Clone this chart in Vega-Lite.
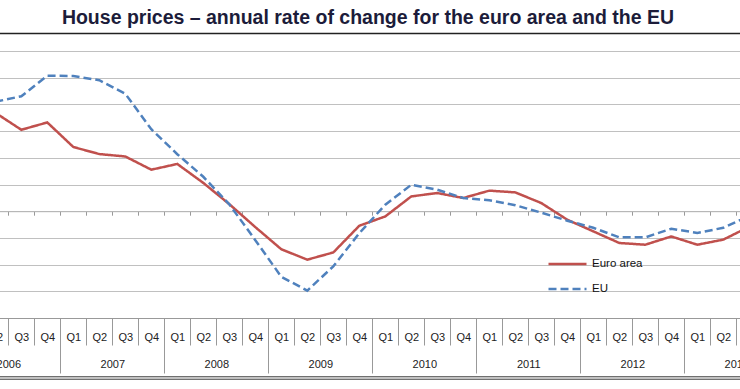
{
  "$schema": "https://vega.github.io/schema/vega-lite/v6.json",
  "width": 740,
  "height": 285,
  "autosize": {"type": "none"},
  "padding": {"left": 0, "right": 0, "top": 33, "bottom": 71},
  "background": "white",
  "title": {
    "text": "House prices – annual rate of change for the euro area and the EU",
    "font": "Liberation Sans",
    "fontSize": 19.5,
    "fontWeight": "bold",
    "color": "#1c1c3a",
    "anchor": "middle",
    "baseline": "alphabetic",
    "offset": 10,
    "dx": -2,
    "dy": 20
  },
  "config": {"view": {"stroke": null}},
  "data": {
    "values": [
      {"quarter": "2006 Q2", "idx": 1, "series": "Euro area", "value": 7.38},
      {"quarter": "2006 Q3", "idx": 2, "series": "Euro area", "value": 6.10},
      {"quarter": "2006 Q4", "idx": 3, "series": "Euro area", "value": 6.65},
      {"quarter": "2007 Q1", "idx": 4, "series": "Euro area", "value": 4.81},
      {"quarter": "2007 Q2", "idx": 5, "series": "Euro area", "value": 4.28},
      {"quarter": "2007 Q3", "idx": 6, "series": "Euro area", "value": 4.10},
      {"quarter": "2007 Q4", "idx": 7, "series": "Euro area", "value": 3.11},
      {"quarter": "2008 Q1", "idx": 8, "series": "Euro area", "value": 3.54},
      {"quarter": "2008 Q2", "idx": 9, "series": "Euro area", "value": 2.12},
      {"quarter": "2008 Q3", "idx": 10, "series": "Euro area", "value": 0.53},
      {"quarter": "2008 Q4", "idx": 11, "series": "Euro area", "value": -1.19},
      {"quarter": "2009 Q1", "idx": 12, "series": "Euro area", "value": -2.85},
      {"quarter": "2009 Q2", "idx": 13, "series": "Euro area", "value": -3.63},
      {"quarter": "2009 Q3", "idx": 14, "series": "Euro area", "value": -3.09},
      {"quarter": "2009 Q4", "idx": 15, "series": "Euro area", "value": -1.09},
      {"quarter": "2010 Q1", "idx": 16, "series": "Euro area", "value": -0.39},
      {"quarter": "2010 Q2", "idx": 17, "series": "Euro area", "value": 1.11},
      {"quarter": "2010 Q3", "idx": 18, "series": "Euro area", "value": 1.36},
      {"quarter": "2010 Q4", "idx": 19, "series": "Euro area", "value": 0.99},
      {"quarter": "2011 Q1", "idx": 20, "series": "Euro area", "value": 1.54},
      {"quarter": "2011 Q2", "idx": 21, "series": "Euro area", "value": 1.41},
      {"quarter": "2011 Q3", "idx": 22, "series": "Euro area", "value": 0.61},
      {"quarter": "2011 Q4", "idx": 23, "series": "Euro area", "value": -0.64},
      {"quarter": "2012 Q1", "idx": 24, "series": "Euro area", "value": -1.51},
      {"quarter": "2012 Q2", "idx": 25, "series": "Euro area", "value": -2.38},
      {"quarter": "2012 Q3", "idx": 26, "series": "Euro area", "value": -2.51},
      {"quarter": "2012 Q4", "idx": 27, "series": "Euro area", "value": -1.89},
      {"quarter": "2013 Q1", "idx": 28, "series": "Euro area", "value": -2.51},
      {"quarter": "2013 Q2", "idx": 29, "series": "Euro area", "value": -2.13},
      {"quarter": "2013 Q3", "idx": 30, "series": "Euro area", "value": -1.16},
      {"quarter": "2006 Q2", "idx": 1, "series": "EU", "value": 8.20},
      {"quarter": "2006 Q3", "idx": 2, "series": "EU", "value": 8.61},
      {"quarter": "2006 Q4", "idx": 3, "series": "EU", "value": 10.15},
      {"quarter": "2007 Q1", "idx": 4, "series": "EU", "value": 10.13},
      {"quarter": "2007 Q2", "idx": 5, "series": "EU", "value": 9.81},
      {"quarter": "2007 Q3", "idx": 6, "series": "EU", "value": 8.80},
      {"quarter": "2007 Q4", "idx": 7, "series": "EU", "value": 6.14},
      {"quarter": "2008 Q1", "idx": 8, "series": "EU", "value": 4.27},
      {"quarter": "2008 Q2", "idx": 9, "series": "EU", "value": 2.58},
      {"quarter": "2008 Q3", "idx": 10, "series": "EU", "value": 0.52},
      {"quarter": "2008 Q4", "idx": 11, "series": "EU", "value": -2.17},
      {"quarter": "2009 Q1", "idx": 12, "series": "EU", "value": -4.91},
      {"quarter": "2009 Q2", "idx": 13, "series": "EU", "value": -5.95},
      {"quarter": "2009 Q3", "idx": 14, "series": "EU", "value": -4.13},
      {"quarter": "2009 Q4", "idx": 15, "series": "EU", "value": -1.65},
      {"quarter": "2010 Q1", "idx": 16, "series": "EU", "value": 0.49},
      {"quarter": "2010 Q2", "idx": 17, "series": "EU", "value": 1.98},
      {"quarter": "2010 Q3", "idx": 18, "series": "EU", "value": 1.61},
      {"quarter": "2010 Q4", "idx": 19, "series": "EU", "value": 0.99},
      {"quarter": "2011 Q1", "idx": 20, "series": "EU", "value": 0.82},
      {"quarter": "2011 Q2", "idx": 21, "series": "EU", "value": 0.45},
      {"quarter": "2011 Q3", "idx": 22, "series": "EU", "value": -0.11},
      {"quarter": "2011 Q4", "idx": 23, "series": "EU", "value": -0.71},
      {"quarter": "2012 Q1", "idx": 24, "series": "EU", "value": -1.24},
      {"quarter": "2012 Q2", "idx": 25, "series": "EU", "value": -1.96},
      {"quarter": "2012 Q3", "idx": 26, "series": "EU", "value": -1.96},
      {"quarter": "2012 Q4", "idx": 27, "series": "EU", "value": -1.31},
      {"quarter": "2013 Q1", "idx": 28, "series": "EU", "value": -1.63},
      {"quarter": "2013 Q2", "idx": 29, "series": "EU", "value": -1.24},
      {"quarter": "2013 Q3", "idx": 30, "series": "EU", "value": -0.34}
    ]
  },
  "resolve": {"axis": {"x": "independent"}},
  "layer": [
    {
      "mark": {"type": "point", "opacity": 0},
      "encoding": {
        "x": {
          "field": "idx", "type": "quantitative",
          "scale": {"domain": [-0.5, 31.5], "range": [-43.7, 788.3], "nice": false, "zero": false},
          "axis": {"orient": "top", "title": null, "labels": false, "ticks": false, "grid": false, "domain": true, "domainColor": "#222222", "domainWidth": 1.5}
        }
      }
    },
    {
      "mark": {"type": "point", "opacity": 0},
      "encoding": {
        "x": {
          "field": "idx", "type": "quantitative",
          "scale": {"domain": [-0.5, 31.5], "range": [-43.7, 788.3], "nice": false, "zero": false},
          "axis": {"orient": "bottom", "offset": -106.8, "title": null, "labels": false, "grid": false,
                   "values": [0,1,2,3,4,5,6,7,8,9,10,11,12,13,14,15,16,17,18,19,20,21,22,23,24,25,26,27,28,29,30,31],
                   "tickOffset": -13, "tickSize": 4, "tickColor": "#999999", "domain": true, "domainColor": "#b5b5b5"}
        }
      }
    },
    {
      "mark": {"type": "point", "opacity": 0},
      "encoding": {
        "x": {
          "field": "idx", "type": "quantitative",
          "scale": {"domain": [-0.5, 31.5], "range": [-43.7, 788.3], "nice": false, "zero": false},
          "axis": {"orient": "bottom", "title": null, "grid": false, "domain": false,
                   "values": [1.5, 5.5, 9.5, 13.5, 17.5, 21.5, 25.5, 29.5],
                   "labelExpr": "'' + (2006 + (datum.value - 1.5) / 4)",
                   "tickOffset": -52, "labelOffset": 52, "tickSize": 55, "tickColor": "#999999",
                   "labelPadding": -9, "labelBaseline": "middle", "labelFont": "Liberation Sans", "labelFontSize": 11,
                   "labelColor": "#222222", "labelFlush": false, "labelOverlap": false, "labelBound": false}
        }
      }
    },
    {
      "mark": {"type": "point", "opacity": 0},
      "encoding": {
        "x": {
          "field": "idx", "type": "quantitative",
          "scale": {"domain": [-0.5, 31.5], "range": [-43.7, 788.3], "nice": false, "zero": false},
          "axis": {"orient": "bottom", "offset": 58.3, "title": null, "labels": false, "ticks": false, "grid": false, "domain": true, "domainColor": "#333333", "domainWidth": 1}
        }
      }
    },
    {
      "mark": {"type": "point", "opacity": 0},
      "encoding": {
        "x": {
          "field": "idx", "type": "quantitative",
          "scale": {"domain": [-0.5, 31.5], "range": [-43.7, 788.3], "nice": false, "zero": false},
          "axis": {"orient": "bottom", "offset": 60.7, "title": null, "labels": false, "ticks": false, "grid": false, "domain": true, "domainColor": "#333333", "domainWidth": 1}
        }
      }
    },
    {
      "mark": {"type": "line", "strokeWidth": 2.5, "clip": true},
      "encoding": {
        "x": {
          "field": "idx", "type": "quantitative",
          "scale": {"domain": [-0.5, 31.5], "range": [-43.7, 788.3], "nice": false, "zero": false},
          "axis": {"orient": "bottom", "title": null, "grid": false,
                   "values": [0,1,2,3,4,5,6,7,8,9,10,11,12,13,14,15,16,17,18,19,20,21,22,23,24,25,26,27,28,29,30,31],
                   "labelExpr": "'Q' + (datum.value % 4 + 1)",
                   "tickOffset": -13, "labelOffset": 13, "tickSize": 27, "tickColor": "#999999",
                   "domain": true, "domainColor": "#999999",
                   "labelPadding": -8, "labelBaseline": "middle", "labelFont": "Liberation Sans", "labelFontSize": 11,
                   "labelColor": "#222222", "labelFlush": false, "labelOverlap": false, "labelBound": false}
        },
        "y": {
          "field": "value", "type": "quantitative",
          "scale": {"domain": [-8, 13.35], "nice": false, "zero": false},
          "axis": {"title": null, "labels": false, "ticks": false, "domain": false, "grid": true,
                   "gridColor": "#c0c0c0", "gridWidth": 1,
                   "values": [-8, -6, -4, -2, 0, 2, 4, 6, 8, 10, 12]}
        },
        "color": {
          "field": "series", "type": "nominal",
          "scale": {"domain": ["Euro area", "EU"], "range": ["#c0504d", "#4f81bd"]},
          "legend": {"title": null, "orient": "none", "legendX": 547, "legendY": 219.5,
                     "symbolType": "stroke", "symbolSize": 1444, "symbolStrokeWidth": 2.5,
                     "clipHeight": 23, "rowPadding": 2, "padding": 0,
                     "labelFont": "Liberation Sans", "labelFontSize": 11.5, "labelColor": "#111111", "labelOffset": 4}
        },
        "strokeDash": {
          "field": "series", "type": "nominal",
          "scale": {"domain": ["Euro area", "EU"], "range": [[1, 0], [8, 4]]},
          "legend": {"title": null, "orient": "none", "legendX": 547, "legendY": 219.5,
                     "symbolType": "stroke", "symbolSize": 1444, "symbolStrokeWidth": 2.5,
                     "clipHeight": 23, "rowPadding": 2, "padding": 0,
                     "labelFont": "Liberation Sans", "labelFontSize": 11.5, "labelColor": "#111111", "labelOffset": 4}
        }
      }
    }
  ]
}
